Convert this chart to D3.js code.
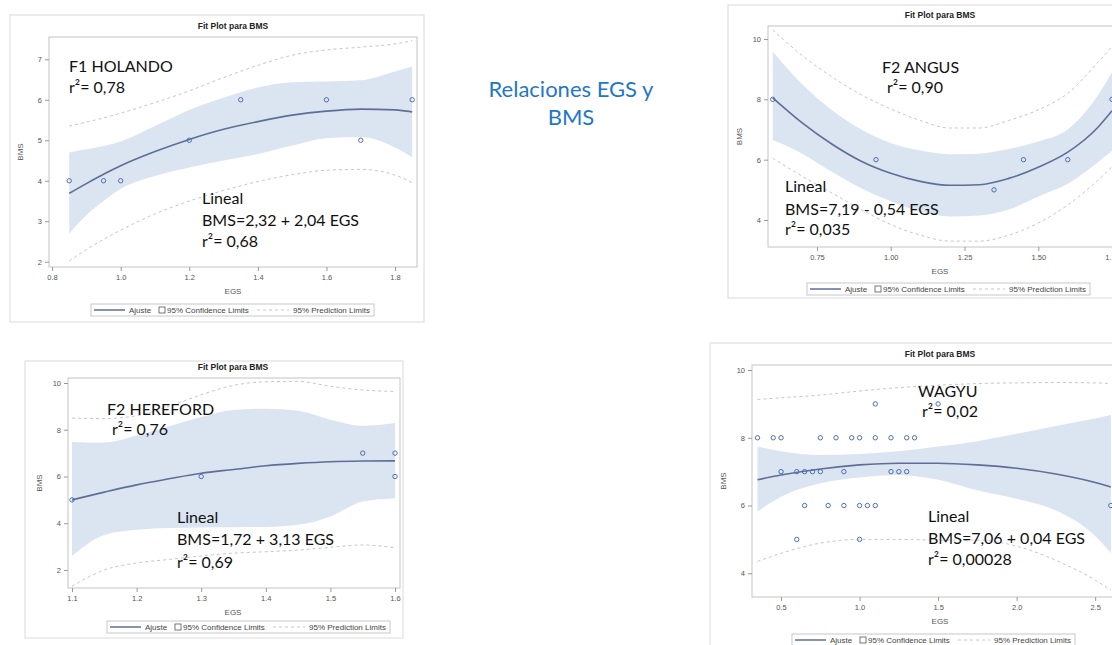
<!DOCTYPE html>
<html>
<head>
<meta charset="utf-8">
<script src="https://cdn.jsdelivr.net/npm/d3@7"></script>
<style>
  body { margin: 0; background: #fff; }
  svg { display: block; }
  .tick text { fill: #555; font-family: Arial, "Liberation Sans", sans-serif; font-size: 7.5px; }
  .tick line { stroke: #999; }
  .domain { stroke: none; }
</style>
</head>
<body>
<svg id="chart" width="1112" height="645"></svg>
<script>
// ---- F1 HOLANDO ----
const holandoX = [0.85, 0.95, 1.0, 1.2, 1.35, 1.6, 1.7, 1.85];
const holandoY = [4, 4, 4, 5, 6, 6, 5, 6];
const holandoGrid = [0.85, 0.9, 0.95, 1.0, 1.1, 1.2, 1.3, 1.4, 1.5, 1.6, 1.7, 1.8, 1.85];
const holandoFit  = [3.69, 3.93, 4.16, 4.37, 4.72, 5.02, 5.27, 5.46, 5.62, 5.72, 5.77, 5.75, 5.70];
const holandoCLU  = [4.70, 4.78, 4.86, 4.97, 5.35, 5.75, 6.05, 6.30, 6.43, 6.45, 6.48, 6.70, 6.82];
const holandoCLL  = [2.70, 3.15, 3.50, 3.80, 4.12, 4.33, 4.50, 4.66, 4.87, 5.05, 5.08, 4.82, 4.58];
const holandoPLU  = [5.35, 5.45, 5.55, 5.67, 5.93, 6.22, 6.55, 6.85, 7.10, 7.23, 7.30, 7.38, 7.46];
const holandoPLL  = [2.02, 2.30, 2.55, 2.78, 3.18, 3.50, 3.76, 3.98, 4.15, 4.26, 4.28, 4.14, 3.95];
const holandoXTicks = [0.8, 1.0, 1.2, 1.4, 1.6, 1.8];
const holandoYTicks = [2, 3, 4, 5, 6, 7];

// ---- F2 ANGUS ----
const angusX = [0.6, 0.95, 1.35, 1.45, 1.6, 1.75];
const angusY = [8, 6, 5, 6, 6, 8];
const angusGrid = [0.6, 0.7, 0.8, 0.9, 1.0, 1.1, 1.2, 1.3, 1.4, 1.5, 1.6, 1.7, 1.75];
const angusFit  = [8.05, 7.22, 6.52, 5.95, 5.55, 5.28, 5.15, 5.17, 5.38, 5.75, 6.25, 7.05, 7.62];
const angusCLU  = [9.58, 8.50, 7.65, 7.00, 6.55, 6.30, 6.18, 6.20, 6.35, 6.60, 7.00, 8.10, 8.90];
const angusCLL  = [6.66, 6.20, 5.60, 5.05, 4.62, 4.28, 4.12, 4.15, 4.35, 4.78, 5.20, 5.90, 6.30];
const angusPLU  = [10.3, 9.45, 8.75, 8.15, 7.68, 7.30, 7.05, 7.05, 7.30, 7.65, 8.20, 9.20, 9.75];
const angusPLL  = [6.05, 5.45, 4.90, 4.35, 3.85, 3.50, 3.30, 3.30, 3.50, 3.90, 4.50, 5.30, 5.77];
const angusXTicks = [0.75, 1.0, 1.25, 1.5, 1.75];
const angusYTicks = [4, 6, 8, 10];

// ---- F2 HEREFORD ----
const herefordX = [1.1, 1.3, 1.55, 1.6, 1.6];
const herefordY = [5, 6, 7, 7, 6];
const herefordGrid = [1.1, 1.15, 1.2, 1.25, 1.3, 1.35, 1.4, 1.45, 1.5, 1.55, 1.6];
const herefordFit  = [5.00, 5.33, 5.64, 5.90, 6.14, 6.30, 6.46, 6.56, 6.63, 6.66, 6.67];
const herefordCLU  = [7.48, 7.45, 7.75, 8.15, 8.55, 8.85, 8.90, 8.81, 8.43, 8.17, 8.29];
const herefordCLL  = [2.60, 3.50, 3.72, 3.80, 3.82, 3.83, 3.84, 3.93, 4.29, 4.93, 5.07];
const herefordPLU  = [8.50, 8.48, 8.60, 9.00, 9.50, 9.90, 10.05, 10.07, 9.86, 9.70, 9.64];
const herefordPLL  = [1.30, 2.00, 2.30, 2.45, 2.60, 2.72, 2.78, 2.85, 2.97, 3.07, 2.95];
const herefordXTicks = [1.1, 1.2, 1.3, 1.4, 1.5, 1.6];
const herefordYTicks = [2, 4, 6, 8, 10];

// ---- WAGYU ----
const wagyuX = [1.1, 1.5,
  0.35, 0.45, 0.5, 0.75, 0.85, 0.95, 1.0, 1.1, 1.2, 1.3, 1.35,
  0.5, 0.6, 0.65, 0.7, 0.75, 0.9, 1.2, 1.25, 1.3,
  0.65, 0.8, 0.9, 1.0, 1.05, 1.1, 2.6,
  0.6, 1.0];
const wagyuY = [9, 9,
  8, 8, 8, 8, 8, 8, 8, 8, 8, 8, 8,
  7, 7, 7, 7, 7, 7, 7, 7, 7,
  6, 6, 6, 6, 6, 6, 6,
  5, 5];
const wagyuGrid = [0.35, 0.5, 0.75, 1.0, 1.25, 1.5, 1.75, 2.0, 2.25, 2.5, 2.6];
const wagyuFit  = [6.76, 6.90, 7.08, 7.20, 7.25, 7.25, 7.20, 7.10, 6.93, 6.68, 6.55];
const wagyuCLU  = [7.74, 7.60, 7.49, 7.52, 7.60, 7.74, 7.90, 8.12, 8.35, 8.57, 8.67];
const wagyuCLL  = [5.82, 6.26, 6.66, 6.83, 6.90, 6.76, 6.45, 6.20, 5.85, 5.10, 4.60];
const wagyuPLU  = [9.13, 9.18, 9.26, 9.38, 9.48, 9.55, 9.60, 9.62, 9.63, 9.62, 9.60];
const wagyuPLL  = [4.35, 4.59, 4.89, 5.00, 5.00, 4.98, 4.98, 4.80, 4.38, 3.80, 3.50];
const wagyuXTicks = [0.5, 1.0, 1.5, 2.0, 2.5];
const wagyuYTicks = [4, 6, 8, 10];

const annoFont = 'Lato, "Open Sans", sans-serif';
const smallFont = 'Arial, "Liberation Sans", sans-serif';

const svg = d3.select('#chart');
svg.append('rect').attr('width', 1112).attr('height', 645).attr('fill', '#fff');

// main heading
svg.append('text')
  .attr('x', 571).attr('y', 97)
  .attr('text-anchor', 'middle')
  .attr('font-family', annoFont).attr('font-size', 22)
  .attr('fill', '#1f77c8')
  .text('Relaciones EGS y');
svg.append('text')
  .attr('x', 571).attr('y', 125)
  .attr('text-anchor', 'middle')
  .attr('font-family', annoFont).attr('font-size', 22)
  .attr('fill', '#1f77c8')
  .text('BMS');

function drawPanel(p) {
  const g = svg.append('g');

  g.append('rect')
    .attr('x', p.frame[0]).attr('y', p.frame[1])
    .attr('width', p.frame[2] - p.frame[0]).attr('height', p.frame[3] - p.frame[1])
    .attr('fill', '#fff').attr('stroke', '#dadada');

  g.append('text')
    .attr('x', p.titleX).attr('y', p.plot[1] - 8)
    .attr('text-anchor', 'middle')
    .attr('font-family', smallFont).attr('font-size', 8.5).attr('font-weight', 'bold')
    .attr('fill', '#222')
    .text('Fit Plot para BMS');

  const x = d3.scaleLinear().domain(p.xDomain).range([p.plot[0], p.plot[2]]);
  const y = d3.scaleLinear().domain(p.yDomain).range([p.plot[3], p.plot[1]]);

  const clipId = 'clip-' + p.id;
  g.append('clipPath').attr('id', clipId)
    .append('rect')
    .attr('x', p.plot[0]).attr('y', p.plot[1])
    .attr('width', p.plot[2] - p.plot[0]).attr('height', p.plot[3] - p.plot[1]);

  const inner = g.append('g').attr('clip-path', 'url(#' + clipId + ')');

  const band = d3.area()
    .x((d, i) => x(p.grid[i]))
    .y0((d, i) => y(p.cll[i]))
    .y1((d, i) => y(p.clu[i]))
    .curve(d3.curveMonotoneX);

  inner.append('path')
    .datum(p.grid)
    .attr('d', band)
    .attr('fill', '#dbe4f1');

  const line = vals => d3.line()
    .x((d, i) => x(p.grid[i]))
    .y((d, i) => y(vals[i]))
    .curve(d3.curveMonotoneX)(p.grid);

  [p.plu, p.pll].forEach(vals => {
    inner.append('path')
      .attr('d', line(vals))
      .attr('fill', 'none')
      .attr('stroke', '#c3c6d4')
      .attr('stroke-width', 1)
      .attr('stroke-dasharray', '3,3');
  });

  inner.append('path')
    .attr('d', line(p.fit))
    .attr('fill', 'none')
    .attr('stroke', '#5d6f96')
    .attr('stroke-width', 1.6);

  inner.selectAll('circle')
    .data(p.px)
    .enter()
    .append('circle')
    .attr('cx', d => x(d))
    .attr('cy', (d, i) => y(p.py[i]))
    .attr('r', 2.2)
    .attr('fill', 'none')
    .attr('stroke', '#4e6fb3')
    .attr('stroke-width', 1);

  g.append('rect')
    .attr('x', p.plot[0]).attr('y', p.plot[1])
    .attr('width', p.plot[2] - p.plot[0]).attr('height', p.plot[3] - p.plot[1])
    .attr('fill', 'none').attr('stroke', '#c4c4c4');

  g.append('g')
    .attr('transform', 'translate(0,' + p.plot[3] + ')')
    .call(d3.axisBottom(x).tickValues(p.xTicks).tickSize(4).tickPadding(4).tickFormat(d3.format(p.xFmt)));

  g.append('g')
    .attr('transform', 'translate(' + p.plot[0] + ',0)')
    .call(d3.axisLeft(y).tickValues(p.yTicks).tickSize(4).tickPadding(3).tickFormat(d3.format('d')));

  g.append('text')
    .attr('x', p.titleX).attr('y', p.plot[3] + 27)
    .attr('text-anchor', 'middle')
    .attr('font-family', smallFont).attr('font-size', 8)
    .attr('fill', '#555')
    .text('EGS');

  g.append('text')
    .attr('transform', 'translate(' + (p.plot[0] - 26) + ',' + ((p.plot[1] + p.plot[3]) / 2) + ') rotate(-90)')
    .attr('text-anchor', 'middle')
    .attr('font-family', smallFont).attr('font-size', 8)
    .attr('fill', '#555')
    .text('BMS');

  // legend
  const lx = p.legend[0], ly = p.legend[1];
  const lg = g.append('g').attr('transform', 'translate(' + lx + ',' + ly + ')');
  lg.append('rect').attr('x', 0).attr('y', 0).attr('width', 283).attr('height', 12)
    .attr('fill', '#fff').attr('stroke', '#c8c8c8');
  lg.append('line').attr('x1', 3).attr('x2', 34).attr('y1', 6).attr('y2', 6)
    .attr('stroke', '#5d6f96').attr('stroke-width', 1.5);
  lg.append('text').attr('x', 38).attr('y', 9).text('Ajuste');
  lg.append('rect').attr('x', 68).attr('y', 3).attr('width', 6).attr('height', 6)
    .attr('fill', '#fff').attr('stroke', '#555').attr('stroke-width', 0.8);
  lg.append('text').attr('x', 76).attr('y', 9).text('95% Confidence Limits');
  lg.append('line').attr('x1', 166).attr('x2', 198).attr('y1', 6).attr('y2', 6)
    .attr('stroke', '#c3c6d4').attr('stroke-dasharray', '3,3');
  lg.append('text').attr('x', 202).attr('y', 9).text('95% Prediction Limits');
  lg.selectAll('text')
    .attr('font-family', smallFont).attr('font-size', 8).attr('fill', '#444');

  // annotations
  p.notes.forEach(n => {
    g.append('text')
      .attr('x', n[0]).attr('y', n[1])
      .attr('font-family', annoFont).attr('font-size', 16)
      .attr('fill', '#111')
      .text(n[2]);
  });
}

drawPanel({
  id: 'holando',
  frame: [10, 15, 424, 322], plot: [49, 37, 417, 267], titleX: 233,
  xDomain: [0.791, 1.864], yDomain: [1.87, 7.55],
  xTicks: holandoXTicks, yTicks: holandoYTicks, xFmt: '.1f',
  px: holandoX, py: holandoY, grid: holandoGrid, fit: holandoFit,
  clu: holandoCLU, cll: holandoCLL, plu: holandoPLU, pll: holandoPLL,
  legend: [91, 304],
  notes: [[69, 72, 'F1 HOLANDO'], [69, 93, 'r²= 0,78'],
          [202, 204, 'Lineal'], [202, 226, 'BMS=2,32 + 2,04 EGS'], [202, 247, 'r²= 0,68']]
});

drawPanel({
  id: 'angus',
  frame: [728, 5, 1130, 298], plot: [768, 26, 1125, 247], titleX: 940,
  xDomain: [0.584, 1.794], yDomain: [3.106, 10.43],
  xTicks: angusXTicks, yTicks: angusYTicks, xFmt: '.2f',
  px: angusX, py: angusY, grid: angusGrid, fit: angusFit,
  clu: angusCLU, cll: angusCLL, plu: angusPLU, pll: angusPLL,
  legend: [807, 283],
  notes: [[882, 73, 'F2 ANGUS'], [887, 93, 'r²= 0,90'],
          [785, 192, 'Lineal'], [785, 215, 'BMS=7,19 - 0,54 EGS'], [785, 235, 'r²= 0,035']]
});

drawPanel({
  id: 'hereford',
  frame: [25, 361, 403, 638], plot: [68, 378, 400, 588], titleX: 233,
  xDomain: [1.0938, 1.6077], yDomain: [1.229, 10.214],
  xTicks: herefordXTicks, yTicks: herefordYTicks, xFmt: '.1f',
  px: herefordX, py: herefordY, grid: herefordGrid, fit: herefordFit,
  clu: herefordCLU, cll: herefordCLL, plu: herefordPLU, pll: herefordPLL,
  legend: [107, 621],
  notes: [[107, 415, 'F2 HEREFORD'], [112, 435, 'r²= 0,76'],
          [177, 523, 'Lineal'], [177, 545, 'BMS=1,72 + 3,13 EGS'], [177, 568, 'r²= 0,69']]
});

drawPanel({
  id: 'wagyu',
  frame: [710, 343, 1130, 660], plot: [752, 365, 1125, 597], titleX: 940,
  xDomain: [0.315, 2.69], yDomain: [3.30, 10.148],
  xTicks: wagyuXTicks, yTicks: wagyuYTicks, xFmt: '.1f',
  px: wagyuX, py: wagyuY, grid: wagyuGrid, fit: wagyuFit,
  clu: wagyuCLU, cll: wagyuCLL, plu: wagyuPLU, pll: wagyuPLL,
  legend: [792, 634],
  notes: [[918, 397, 'WAGYU'], [922, 417, 'r²= 0,02'],
          [928, 522, 'Lineal'], [928, 544, 'BMS=7,06 + 0,04 EGS'], [928, 565, 'r²= 0,00028']]
});
</script>
</body>
</html>
